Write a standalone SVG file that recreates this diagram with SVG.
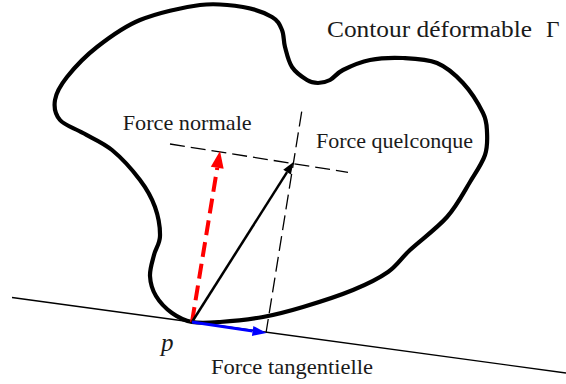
<svg xmlns="http://www.w3.org/2000/svg" width="566" height="384" viewBox="0 0 566 384">
<style>
text{font-family:'Liberation Serif','Times New Roman',serif;fill:#1a1a1a;}
.thin{stroke:#000;stroke-width:1.4;fill:none;}
.dash{stroke:#000;stroke-width:1.3;fill:none;stroke-dasharray:15 6;}
</style>
<defs>
<marker id="hRed" markerUnits="userSpaceOnUse" markerWidth="18" markerHeight="14" refX="0" refY="6.5" orient="auto" overflow="visible"><path d="M0,0 L17,6.5 L0,13 z" fill="#ff0000"/></marker>
<marker id="hBlack" markerUnits="userSpaceOnUse" markerWidth="13" markerHeight="10" refX="0" refY="4.5" orient="auto" overflow="visible"><path d="M0,0 L12,4.5 L0,9 z" fill="#000"/></marker>
<marker id="hBlue" markerUnits="userSpaceOnUse" markerWidth="15" markerHeight="11" refX="0" refY="5" orient="auto" overflow="visible"><path d="M0,0 L14,5 L0,10 z" fill="#0000ff"/></marker>
</defs>
<rect width="566" height="384" fill="#fff"/>
<g id="contour">
<path fill="none" stroke="#000" stroke-width="4.2" stroke-linejoin="round" d="M192,322 C184,320.5 178,317.33 172,313 C166,308.67 159.670,302.17 156,296 C152.33,289.83 150.33,282.83 150,276 C149.67,269.17 152.33,261.67 154,255 C155.67,248.33 159.83,244 160,236 C160.17,228 158.33,216.33 155,207 C151.67,197.67 147.17,189.5 140,180 C132.83,170.5 121.5,157.83 112,150 C102.5,142.17 91.67,138 83,133 C74.33,128 64.67,125.5 60,120 C55.33,114.5 53.83,107.17 55,100 C56.17,92.83 60,85.83 67,77 C74,68.17 84.83,56.5 97,47 C109.17,37.5 122.83,27 140,20 C157.17,13 182.83,7.17 200,5 C217.17,2.83 231,5 243,7 C255,9 265.5,13.17 272,17 C278.5,20.83 279.83,25 282,30 C284.17,35 283.33,40.83 285,47 C286.67,53.17 288.33,61.5 292,67 C295.67,72.5 302.67,77.33 307,80 C311.33,82.67 314.17,83 318,83 C321.83,83 325.83,82.17 330,80 C334.17,77.83 336.33,73.33 343,70 C349.67,66.67 360,62 370,60 C380,58 391.83,57.5 403,58 C414.17,58.5 427,58.83 437,63 C447,67.17 455.33,74.67 463,83 C470.67,91.33 479,104.83 483,113 C487,121.17 486.67,125 487,132 C487.33,139 487.83,146.67 485,155 C482.17,163.33 476.33,171.67 470,182 C463.67,192.33 457,205.67 447,217 C437,228.33 419.83,240.83 410,250 C400.17,259.17 397.5,265.33 388,272 C378.5,278.67 367.17,284.17 353,290 C338.83,295.83 318,302.5 303,307 C288,311.5 276.83,314.5 263,317 C249.17,319.5 231.83,321.17 220,322 C208.17,322.83 200,323.5 192,322 Z"/>
</g>
<g id="connectors">
<line class="thin" x1="12" y1="297.5" x2="566" y2="373"/>
<line class="dash" x1="170" y1="144" x2="348" y2="172.3"/>
<line class="dash" x1="301.7" y1="111.7" x2="266" y2="333"/>
<line stroke="#ff0000" stroke-width="4" stroke-dasharray="15 7" x1="192" y1="322" x2="217.25" y2="167.8" marker-end="url(#hRed)"/>
<line stroke="#000" stroke-width="2.5" x1="192" y1="322" x2="287.07" y2="172.13" marker-end="url(#hBlack)"/>
<line stroke="#0000ff" stroke-width="3" x1="192" y1="322" x2="252.65" y2="330.96" marker-end="url(#hBlue)"/>
</g>
<g id="label-contour">
<text x="327" y="37" font-family="Liberation Serif, serif" font-size="23.4" textLength="205" lengthAdjust="spacingAndGlyphs">Contour déformable</text>
<text x="546" y="37" font-family="Liberation Serif, serif" font-size="23.4">Γ</text>
</g>
<g id="label-normale"><text x="122.7" y="130" font-family="Liberation Serif, serif" font-size="21" textLength="129" lengthAdjust="spacingAndGlyphs">Force normale</text></g>
<g id="label-quelconque"><text x="316" y="148" font-family="Liberation Serif, serif" font-size="21" textLength="157" lengthAdjust="spacingAndGlyphs">Force quelconque</text></g>
<g id="label-tangentielle"><text x="211" y="373.5" font-family="Liberation Serif, serif" font-size="21" textLength="162" lengthAdjust="spacingAndGlyphs">Force tangentielle</text></g>
<g id="label-p"><text x="161" y="351" font-family="Liberation Serif, serif" font-size="25" font-style="italic">p</text></g>
</svg>
